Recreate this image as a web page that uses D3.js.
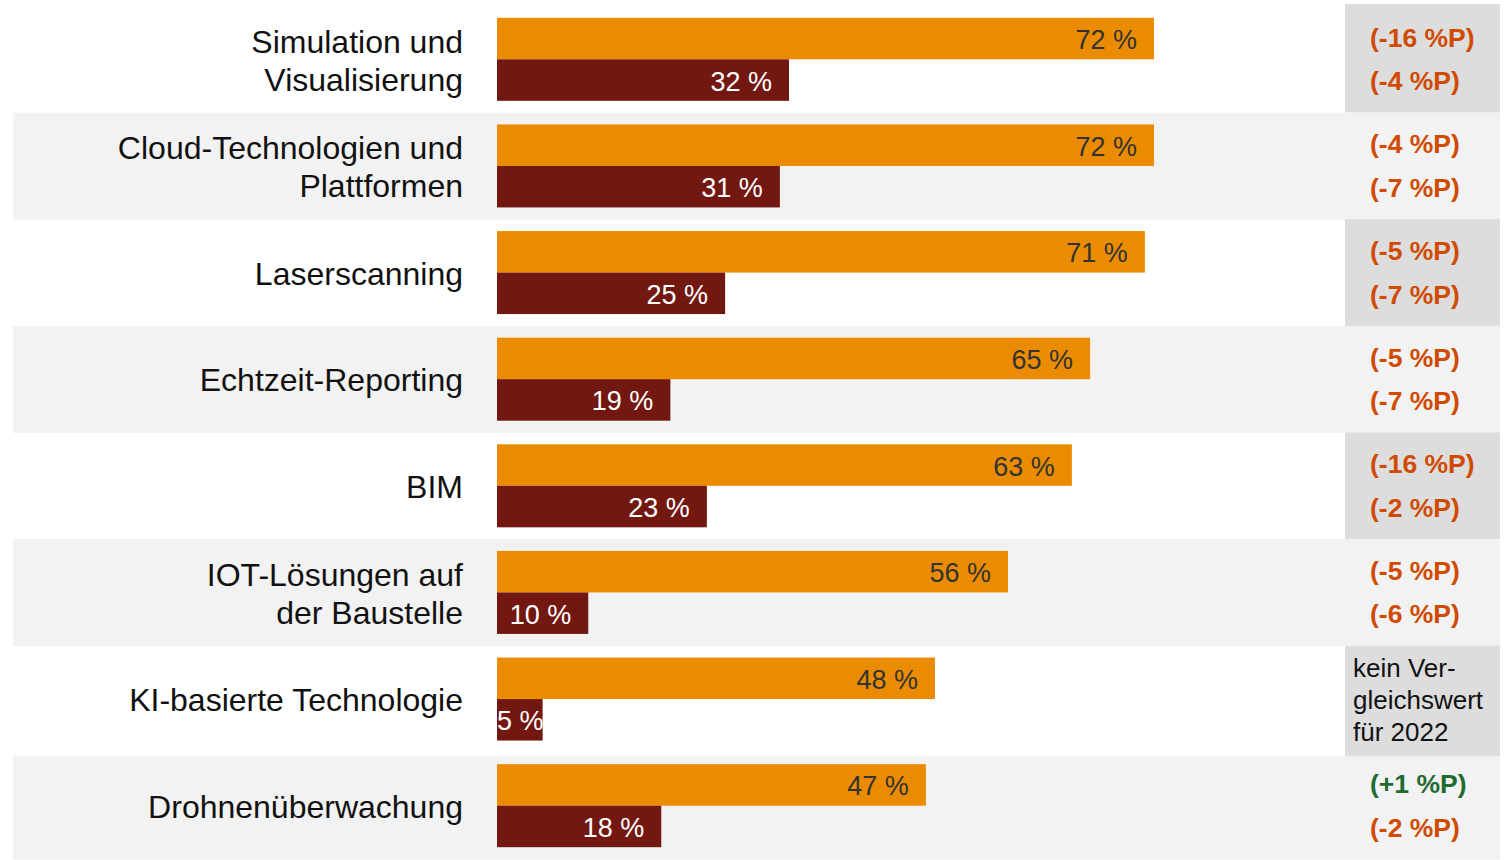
<!DOCTYPE html>
<html>
<head>
<meta charset="utf-8">
<script src="https://cdn.jsdelivr.net/npm/d3@7"></script>
<style>
  body { margin: 0; background: #fff; }
  svg { display: block; font-family: "Liberation Sans", Arial, sans-serif; }
</style>
</head>
<body>
<div id="chart"></div>
<script>
// data
var categories = [
  ["Simulation und", "Visualisierung"],
  ["Cloud-Technologien und", "Plattformen"],
  ["Laserscanning"],
  ["Echtzeit-Reporting"],
  ["BIM"],
  ["IOT-Lösungen auf", "der Baustelle"],
  ["KI-basierte Technologie"],
  ["Drohnenüberwachung"]
];
var seriesA = [72, 72, 71, 65, 63, 56, 48, 47];
var seriesB = [32, 31, 25, 19, 23, 10, 5, 18];
var changeA = [-16, -4, -5, -5, -16, -5, null, 1];
var changeB = [-4, -7, -7, -7, -2, -6, null, -2];
var noValueText = ["kein Ver-", "gleichswert", "für 2022"];

var width = 1508, height = 860;

var svg = d3.select("#chart").append("svg")
  .attr("width", width)
  .attr("height", height);

// scales
var y = d3.scaleBand()
  .domain(d3.range(categories.length))
  .range([6, 859])
  .paddingInner(0).paddingOuter(0);

var x = d3.scaleLinear().domain([0, 100]).range([497, 497 + 912.5]);

var sub = d3.scaleBand().domain(["a", "b"]).range([y.bandwidth() / 2 - 41.5, y.bandwidth() / 2 + 41.5]);

var rows = svg.selectAll("g.row")
  .data(categories)
  .enter().append("g")
  .attr("class", "row")
  .attr("transform", function(d, i) { return "translate(0," + y(i) + ")"; });

// alternating background (last row starts a bit lower, the box above it is taller)
rows.filter(function(d, i) { return i % 2 == 1; })
  .append("rect")
  .attr("x", 13)
  .attr("y", function(d, i) { return i == 3 ? 3.5 : 0; })
  .attr("width", 1500 - 13)
  .attr("height", function(d, i) { return y.bandwidth() + 0.5 - (i == 3 ? 3.5 : 0); })
  .attr("fill", "#f2f2f2");

// grey boxes on the right for the white rows
rows.filter(function(d, i) { return i % 2 == 0; })
  .append("rect")
  .attr("x", 1345)
  .attr("y", function(d, i) { return i == 0 ? -2 : 0; })
  .attr("width", 1500 - 1345)
  .attr("height", function(d, i) { return (i == 0 ? 2 : 0) + y.bandwidth() + (i == 3 ? 3.5 : 0); })
  .attr("fill", "#dddddd");

// category labels
rows.append("text")
  .attr("text-anchor", "end")
  .attr("font-size", 32)
  .attr("fill", "#111")
  .each(function(d) {
    var t = d3.select(this);
    var lh = 38;
    d.forEach(function(line, k) {
      t.append("tspan")
        .attr("x", 463)
        .attr("y", y.bandwidth() / 2 + 1 + (k - (d.length - 1) / 2) * lh)
        .attr("dy", "0.35em")
        .text(line);
    });
  });

// bars
rows.append("rect")
  .attr("x", x(0))
  .attr("y", sub("a"))
  .attr("width", function(d, i) { return x(seriesA[i]) - x(0); })
  .attr("height", sub.bandwidth())
  .attr("fill", "#eb8c00");

rows.append("rect")
  .attr("x", x(0))
  .attr("y", sub("b"))
  .attr("width", function(d, i) { return x(seriesB[i]) - x(0); })
  .attr("height", sub.bandwidth())
  .attr("fill", "#721811");

// value labels
rows.append("text")
  .attr("x", function(d, i) { return x(seriesA[i]) - 17; })
  .attr("y", sub("a") + sub.bandwidth() / 2 + 1)
  .attr("dy", "0.35em")
  .attr("text-anchor", "end")
  .attr("font-size", 27)
  .attr("fill", "#333")
  .text(function(d, i) { return seriesA[i] + " %"; });

rows.append("text")
  .attr("x", function(d, i) { return seriesB[i] < 8 ? x(0) : x(seriesB[i]) - 17; })
  .attr("y", sub("b") + sub.bandwidth() / 2 + 1)
  .attr("dy", "0.35em")
  .attr("text-anchor", function(d, i) { return seriesB[i] < 8 ? "start" : "end"; })
  .attr("font-size", 27)
  .attr("fill", "#fff")
  .text(function(d, i) { return seriesB[i] + " %"; });

// change column
function fmt(v) { return "(" + (v > 0 ? "+" : "") + v + " %P)"; }
function col(v) { return v > 0 ? "#1f6b2f" : "#d04a02"; }

rows.each(function(d, i) {
  var g = d3.select(this);
  if (changeA[i] == null) {
    var t = g.append("text")
      .attr("font-size", 26)
      .attr("fill", "#111");
    noValueText.forEach(function(line, k) {
      t.append("tspan")
        .attr("x", 1353)
        .attr("y", y.bandwidth() / 2 + 1 + (k - 1) * 32)
        .attr("dy", "0.35em")
        .text(line);
    });
    return;
  }
  g.append("text")
    .attr("x", 1370)
    .attr("y", sub("a") + sub.bandwidth() / 2 - 1)
    .attr("dy", "0.35em")
    .attr("font-size", 26.5)
    .attr("font-weight", "bold")
    .attr("fill", col(changeA[i]))
    .text(fmt(changeA[i]));
  g.append("text")
    .attr("x", 1370)
    .attr("y", sub("b") + sub.bandwidth() / 2 + 1)
    .attr("dy", "0.35em")
    .attr("font-size", 26.5)
    .attr("font-weight", "bold")
    .attr("fill", col(changeB[i]))
    .text(fmt(changeB[i]));
});
</script>
</body>
</html>
